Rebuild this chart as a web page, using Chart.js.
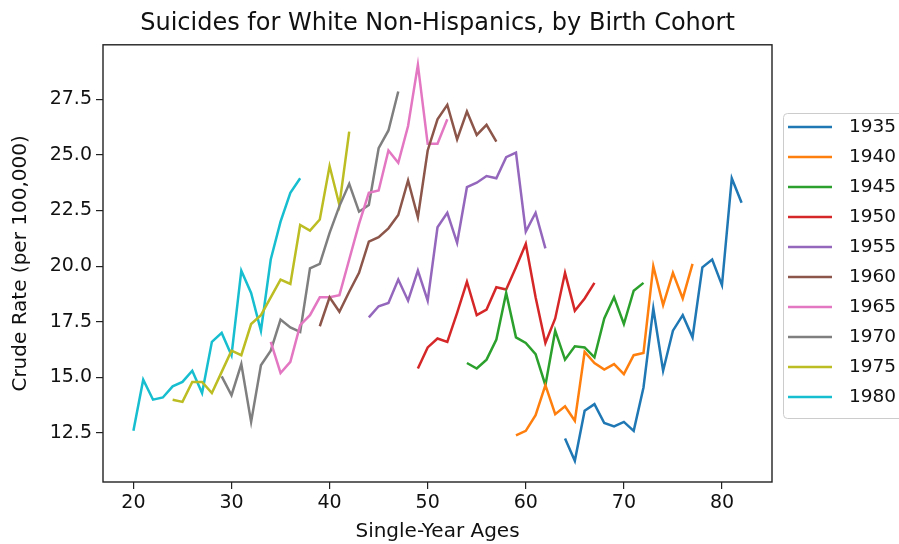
<!DOCTYPE html>
<html>
<head>
<meta charset="utf-8">
<script src="https://cdn.jsdelivr.net/npm/chart.js@4.4.0/dist/chart.umd.min.js"></script>
<style>
  html, body { margin: 0; padding: 0; background: #fff; }
</style>
</head>
<body>
<canvas id="chart" width="899" height="544"></canvas>
<script>
// birth cohorts, the first age each cohort is observed at, and crude rates per year of age
const cohorts = ['1935', '1940', '1945', '1950', '1955', '1960', '1965', '1970', '1975', '1980'];
const startAges = [64, 59, 54, 49, 44, 39, 34, 29, 24, 20];
const colors = ['#1f77b4', '#ff7f0e', '#2ca02c', '#d62728', '#9467bd',
                '#8c564b', '#e377c2', '#7f7f7f', '#bcbd22', '#17becf'];

const rate1935 = [12.25, 11.25, 13.5, 13.8, 12.95, 12.8, 13.0, 12.6, 14.55, 18.1,
                  15.3, 17.1, 17.8, 16.8, 19.95, 20.3, 19.15, 23.95, 22.85];
const rate1940 = [12.4, 12.6, 13.3, 14.65, 13.35, 13.7, 13.05, 16.15, 15.65, 15.35,
                  15.6, 15.15, 16.0, 16.1, 20.0, 18.25, 19.7, 18.55, 20.1];
const rate1945 = [15.65, 15.4, 15.8, 16.7, 18.8, 16.8, 16.55, 16.05, 14.65, 17.1,
                  15.8, 16.4, 16.35, 15.9, 17.65, 18.6, 17.4, 18.9, 19.25];
const rate1950 = [15.4, 16.35, 16.75, 16.6, 17.9, 19.3, 17.8, 18.05, 19.05, 18.95,
                  19.95, 21.0, 18.6, 16.55, 17.65, 19.7, 18.0, 18.55, 19.25];
const rate1955 = [17.7, 18.2, 18.35, 19.4, 18.45, 19.8, 18.45, 21.75, 22.4, 21.05,
                  23.55, 23.75, 24.05, 23.95, 24.9, 25.1, 21.55, 22.4, 20.8];
const rate1960 = [17.3, 18.6, 17.95, 18.85, 19.7, 21.1, 21.3, 21.7, 22.3, 23.85,
                  22.2, 25.2, 26.6, 27.25, 25.7, 26.95, 25.9, 26.35, 25.6];
const rate1965 = [16.6, 15.2, 15.7, 17.35, 17.8, 18.6, 18.6, 18.7, 20.3, 21.9,
                  23.3, 23.4, 25.2, 24.65, 26.3, 29.05, 25.5, 25.5, 26.6];
const rate1970 = [15.05, 14.2, 15.6, 13.0, 15.55, 16.2, 17.6, 17.25, 17.05, 19.9,
                  20.1, 21.5, 22.7, 23.7, 22.45, 22.75, 25.3, 26.1, 27.85];
const rate1975 = [14.0, 13.9, 14.8, 14.8, 14.3, 15.25, 16.2, 16.0, 17.4, 17.8,
                  18.6, 19.4, 19.2, 21.85, 21.6, 22.1, 24.5, 22.75, 26.05];
const rate1980 = [12.6, 14.9, 14.0, 14.1, 14.6, 14.8, 15.3, 14.3, 16.6, 17.0,
                  16.0, 19.8, 18.8, 17.1, 20.3, 22.0, 23.3, 23.95];

const rates = [rate1935, rate1940, rate1945, rate1950, rate1955,
               rate1960, rate1965, rate1970, rate1975, rate1980];

const xMin = 16.9, xMax = 85.1;
const yMin = 10.3, yMax = 29.95;

const datasets = cohorts.map(function (c, i) {
    return {
        label: c,
        data: rates[i].map(function (v, j) { return { x: startAges[i] + j, y: v }; }),
        borderColor: colors[i],
        backgroundColor: colors[i],
        borderWidth: 2.5,
        pointRadius: 0,
        tension: 0,
        fill: false
    };
});

// box round the plot, like matplotlib spines
const framePlugin = {
    id: 'frame',
    afterDraw(chart) {
        const a = chart.chartArea;
        const ctx = chart.ctx;
        ctx.save();
        ctx.strokeStyle = '#222';
        ctx.lineWidth = 1.4;
        ctx.strokeRect(a.left, a.top, a.right - a.left, a.bottom - a.top);
        ctx.restore();
    }
};

// legend to the right of the axes, with a light frame
const legendPlugin = {
    id: 'sideLegend',
    afterDraw(chart) {
        const ctx = chart.ctx;
        const a = chart.chartArea;
        const x0 = a.right + 11, y0 = 113, w = 140, h = 305;
        ctx.save();
        ctx.fillStyle = 'rgba(255,255,255,0.8)';
        ctx.strokeStyle = '#cccccc';
        ctx.lineWidth = 1;
        ctx.beginPath();
        ctx.roundRect(x0 + 0.5, y0 + 0.5, w, h, 4);
        ctx.fill();
        ctx.stroke();
        ctx.font = '18.5px "DejaVu Sans"';
        ctx.textBaseline = 'middle';
        ctx.fillStyle = '#111';
        chart.data.datasets.forEach(function (ds, i) {
            const y = y0 + 14 + i * 30;
            ctx.strokeStyle = ds.borderColor;
            ctx.lineWidth = 2.5;
            ctx.beginPath();
            ctx.moveTo(x0 + 5, y);
            ctx.lineTo(x0 + 49, y);
            ctx.stroke();
            ctx.fillText(ds.label, x0 + 66, y);
        });
        ctx.restore();
    }
};

const tickFont = { family: 'DejaVu Sans', size: 19 };

new Chart(document.getElementById('chart'), {
    type: 'line',
    data: { datasets: datasets },
    plugins: [framePlugin, legendPlugin],
    options: {
        responsive: false,
        animation: false,
        layout: { padding: { left: 0, right: 127, top: 0, bottom: 0 } },
        plugins: {
            legend: { display: false },
            tooltip: { enabled: false },
            title: {
                display: true,
                text: 'Suicides for White Non-Hispanics, by Birth Cohort',
                fullSize: false,
                color: '#111',
                font: { family: 'DejaVu Sans', size: 24, weight: 'normal' },
                padding: { top: 9, bottom: 7 }
            }
        },
        scales: {
            x: {
                type: 'linear',
                min: xMin,
                max: xMax,
                afterFit(scale) { scale.height = 62; },
                grid: { drawOnChartArea: false, drawTicks: true, tickLength: 7, color: '#222', lineWidth: 1.2 },
                border: { display: false },
                ticks: {
                    stepSize: 10,
                    includeBounds: false,
                    autoSkip: false,
                    maxRotation: 0,
                    padding: 3,
                    color: '#111',
                    font: tickFont,
                    callback: function (v) { return v.toFixed(0); }
                },
                title: {
                    display: true,
                    text: 'Single-Year Ages',
                    color: '#111',
                    font: { family: 'DejaVu Sans', size: 20 },
                    padding: { top: 0, bottom: 0 }
                }
            },
            y: {
                type: 'linear',
                min: yMin,
                max: yMax,
                afterFit(scale) { scale.width = 103; },
                grid: { drawOnChartArea: false, drawTicks: true, tickLength: 7, color: '#222', lineWidth: 1.2 },
                border: { display: false },
                ticks: {
                    stepSize: 2.5,
                    includeBounds: false,
                    autoSkip: false,
                    padding: 4,
                    color: '#111',
                    font: tickFont,
                    callback: function (v) { return v.toFixed(1); }
                },
                title: {
                    display: true,
                    text: 'Crude Rate (per 100,000)',
                    color: '#111',
                    font: { family: 'DejaVu Sans', size: 20 },
                    padding: { top: 9, bottom: 0 }
                }
            }
        }
    }
});
</script>
</body>
</html>
